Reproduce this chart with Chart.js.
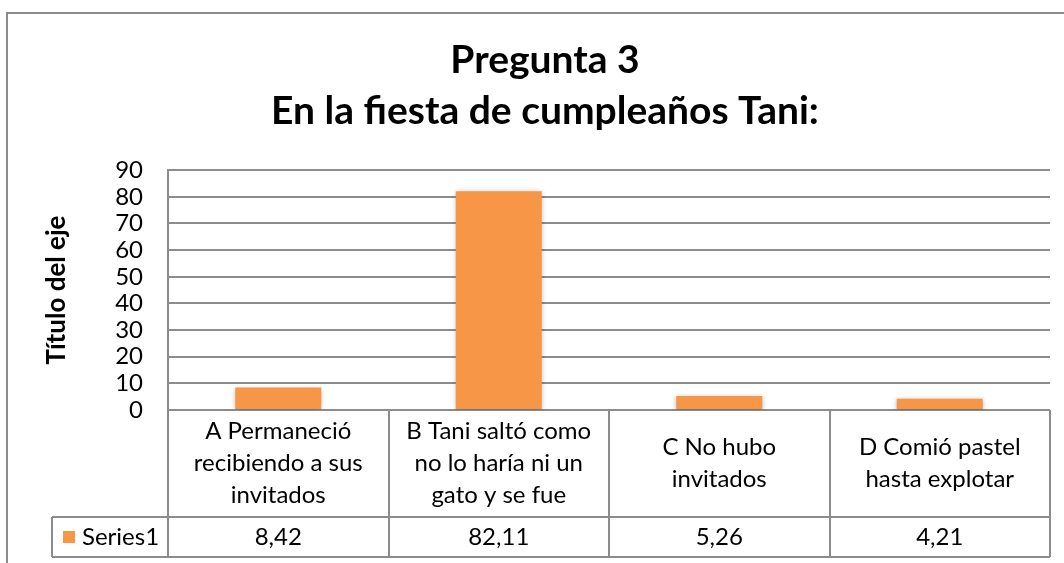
<!DOCTYPE html>
<html>
<head>
<meta charset="utf-8">
<script src="https://cdn.jsdelivr.net/npm/chart.js@4.4.0/dist/chart.umd.min.js"></script>
<style>
  body { margin: 0; background: #fff; }
  #wrap { width: 1064px; height: 563px; }
</style>
</head>
<body>
<div id="wrap"><canvas id="grafico"></canvas></div>
<script>
// datos
const categorias = [
  ['A Permaneció', 'recibiendo a sus', 'invitados'],
  ['B Tani saltó como', 'no lo haría ni un', 'gato y se fue'],
  ['C No hubo', 'invitados'],
  ['D Comió pastel', 'hasta explotar']
];
const valores = [8.42, 82.11, 5.26, 4.21];
const nombreSerie = 'Series1';
const titulo = ['Pregunta 3', 'En la fiesta de cumpleaños Tani:'];
const tituloEje = 'Título del eje';

const naranja = '#F79646';
const gris = '#8c8c8c';
const fuente = 'Lato, "Open Sans", sans-serif';

const FILA_CAT = 107;
const FILA_VAL = 40;
const CELDA_SERIE_X = 52;

// marco exterior y fondo
const fondo = {
  id: 'fondo',
  beforeDraw(chart) {
    const ctx = chart.ctx;
    ctx.save();
    ctx.fillStyle = '#fff';
    ctx.fillRect(0, 0, chart.width, chart.height);
    ctx.strokeStyle = gris;
    ctx.lineWidth = 2;
    ctx.strokeRect(7, 13, chart.width + 50, chart.height + 50);
    ctx.restore();
  }
};

// sombra suave de las barras
const sombra = {
  id: 'sombra',
  beforeDatasetsDraw(chart) {
    const ctx = chart.ctx;
    ctx.save();
    ctx.shadowColor = 'rgba(0,0,0,0.3)';
    ctx.shadowBlur = 5;
    ctx.shadowOffsetX = 0;
    ctx.shadowOffsetY = 1;
  },
  afterDatasetsDraw(chart) {
    chart.ctx.restore();
  }
};

// tabla de datos debajo del grafico
const tablaDatos = {
  id: 'tablaDatos',
  afterDraw(chart) {
    const ctx = chart.ctx;
    const area = chart.chartArea;
    const x = chart.scales.x;
    const n = categorias.length;
    const ancho = (area.right - area.left) / n;
    const y0 = area.bottom;
    const y1 = y0 + FILA_CAT;
    const y2 = y1 + FILA_VAL;

    ctx.save();
    ctx.strokeStyle = gris;
    ctx.lineWidth = 2;
    ctx.beginPath();
    for (let i = 0; i <= n; i++) {
      const px = Math.round(area.left + i * ancho);
      ctx.moveTo(px, y0);
      ctx.lineTo(px, y2);
    }
    ctx.moveTo(CELDA_SERIE_X, y1);
    ctx.lineTo(area.right, y1);
    ctx.moveTo(CELDA_SERIE_X, y2);
    ctx.lineTo(area.right, y2);
    ctx.moveTo(CELDA_SERIE_X, y1);
    ctx.lineTo(CELDA_SERIE_X, y2);
    ctx.stroke();

    ctx.fillStyle = '#000';
    ctx.font = '24px ' + fuente;
    ctx.textAlign = 'center';
    ctx.textBaseline = 'middle';
    const alto = 32;
    categorias.forEach((lineas, i) => {
      const cx = x.getPixelForValue(i);
      const cy = (y0 + y1) / 2;
      lineas.forEach((t, j) => {
        ctx.fillText(t, cx, cy + (j - (lineas.length - 1) / 2) * alto);
      });
      const v = valores[i].toFixed(2).replace('.', ',');
      ctx.fillText(v, cx, (y1 + y2) / 2);
    });

    // leyenda de la serie
    ctx.fillStyle = naranja;
    ctx.fillRect(63, (y1 + y2) / 2 - 6, 12, 12);
    ctx.fillStyle = '#000';
    ctx.textAlign = 'left';
    ctx.fillText(nombreSerie, 82, (y1 + y2) / 2);
    ctx.restore();
  }
};

new Chart(document.getElementById('grafico'), {
  type: 'bar',
  data: {
    labels: categorias,
    datasets: [{
      label: nombreSerie,
      data: valores,
      backgroundColor: naranja,
      borderWidth: 0,
      barPercentage: 0.39,
      categoryPercentage: 1
    }]
  },
  options: {
    responsive: true,
    maintainAspectRatio: false,
    animation: false,
    layout: {
      padding: { left: 40, right: 14, top: 0, bottom: FILA_CAT + FILA_VAL + 6 }
    },
    plugins: {
      legend: { display: false },
      tooltip: { enabled: false },
      title: {
        display: true,
        text: titulo,
        color: '#000',
        font: { family: fuente, size: 39, weight: 'bold', lineHeight: 1.31 },
        padding: { top: 35, bottom: 33 }
      }
    },
    scales: {
      x: {
        display: false
      },
      y: {
        min: 0,
        max: 90,
        afterFit(scale) { scale.width = 128; },
        ticks: {
          stepSize: 10,
          autoSkip: false,
          padding: 25,
          color: '#000',
          font: { family: fuente, size: 24 }
        },
        grid: { color: gris, lineWidth: 2, drawTicks: false },
        border: { display: true, color: gris, width: 2 },
        title: {
          display: true,
          text: tituloEje,
          color: '#000',
          font: { family: fuente, size: 26, weight: 'bold' },
          padding: { top: 1, bottom: 0 }
        }
      }
    }
  },
  plugins: [fondo, sombra, tablaDatos]
});
</script>
</body>
</html>
